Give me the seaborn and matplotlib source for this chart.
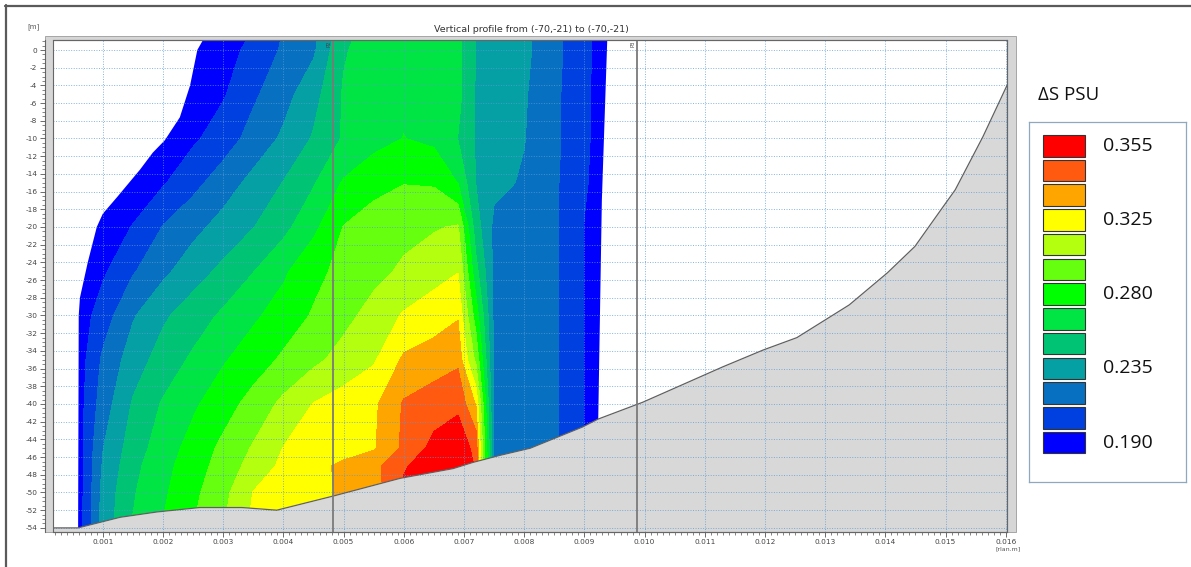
import numpy as np
import matplotlib
matplotlib.use("Agg")
import matplotlib.pyplot as plt
import seaborn as sns
from matplotlib.patches import Polygon, Rectangle
from matplotlib.lines import Line2D
from matplotlib.ticker import MultipleLocator, FuncFormatter

# ---------------- data ----------------
TITLE = "Vertical profile from (-70,-21) to (-70,-21)"

# grid nodes of the salinity-difference field
X_NODES = [0.0002, 0.0006, 0.001, 0.0015, 0.002, 0.0025, 0.003, 0.0035, 0.004,
           0.0045, 0.005, 0.0055, 0.006, 0.0065, 0.0069, 0.0072, 0.0075, 0.008,
           0.0085, 0.009, 0.0095]
Z_NODES = [2, 0, -5, -10, -15, -20, -25, -30, -35, -40, -45, -47, -50, -55]

DS_P2 = [0.166, 0.170, 0.174, 0.179, 0.183, 0.188, 0.192, 0.198, 0.213, 0.223, 0.253, 0.264, 0.268, 0.266, 0.261, 0.242, 0.238, 0.231, 0.217, 0.201, 0.187]
DS_0 = [0.168, 0.172, 0.176, 0.180, 0.185, 0.189, 0.194, 0.200, 0.215, 0.225, 0.256, 0.265, 0.269, 0.267, 0.261, 0.242, 0.238, 0.231, 0.217, 0.201, 0.187]
DS_5 = [0.168, 0.171, 0.175, 0.181, 0.186, 0.191, 0.196, 0.210, 0.222, 0.237, 0.259, 0.267, 0.270, 0.268, 0.262, 0.241, 0.238, 0.229, 0.216, 0.200, 0.187]
DS_10 = [0.170, 0.175, 0.179, 0.184, 0.190, 0.195, 0.205, 0.218, 0.230, 0.244, 0.259, 0.267, 0.2728, 0.269, 0.257, 0.241, 0.238, 0.228, 0.216, 0.200, 0.187]
DS_15 = [0.179, 0.183, 0.186, 0.191, 0.196, 0.208, 0.220, 0.232, 0.243, 0.256, 0.274, 0.283, 0.287, 0.286, 0.272, 0.242, 0.231, 0.226, 0.215, 0.199, 0.187]
DS_20 = [0.181, 0.186, 0.191, 0.198, 0.213, 0.223, 0.233, 0.242, 0.253, 0.269, 0.288, 0.294, 0.298, 0.301, 0.304, 0.249, 0.224, 0.223, 0.215, 0.197, 0.187]
DS_25 = [0.180, 0.187, 0.195, 0.211, 0.224, 0.236, 0.246, 0.257, 0.270, 0.283, 0.292, 0.298, 0.305, 0.312, 0.317, 0.262, 0.224, 0.223, 0.215, 0.197, 0.187]
DS_30 = [0.177, 0.189, 0.205, 0.226, 0.240, 0.250, 0.260, 0.270, 0.279, 0.289, 0.298, 0.308, 0.319, 0.325, 0.329, 0.280, 0.224, 0.223, 0.215, 0.197, 0.187]
DS_35 = [0.175, 0.190, 0.215, 0.235, 0.249, 0.260, 0.271, 0.280, 0.290, 0.299, 0.308, 0.316, 0.332, 0.335, 0.338, 0.299, 0.224, 0.223, 0.215, 0.197, 0.187]
DS_40 = [0.175, 0.191, 0.220, 0.244, 0.259, 0.270, 0.281, 0.293, 0.306, 0.318, 0.324, 0.328, 0.341, 0.345, 0.348, 0.329, 0.224, 0.223, 0.215, 0.197, 0.187]
DS_45 = [0.175, 0.191, 0.227, 0.250, 0.265, 0.278, 0.291, 0.304, 0.318, 0.322, 0.326, 0.329, 0.342, 0.353, 0.356, 0.347, 0.224, 0.223, 0.215, 0.197, 0.187]
DS_47 = [0.175, 0.190, 0.229, 0.253, 0.268, 0.280, 0.294, 0.308, 0.321, 0.327, 0.332, 0.337, 0.349, 0.356, 0.358, 0.349, 0.224, 0.223, 0.215, 0.197, 0.187]
DS_50 = [0.175, 0.190, 0.232, 0.256, 0.270, 0.284, 0.298, 0.318, 0.324, 0.328, 0.331, 0.335, 0.352, 0.357, 0.359, 0.349, 0.224, 0.223, 0.215, 0.197, 0.187]
DS_55 = [0.175, 0.190, 0.234, 0.259, 0.274, 0.288, 0.303, 0.321, 0.325, 0.329, 0.332, 0.336, 0.353, 0.358, 0.360, 0.351, 0.224, 0.223, 0.215, 0.197, 0.187]

# contour band limits and colours (low -> high)
LEVELS = [0.0, 0.1975, 0.2125, 0.2275, 0.2425, 0.2575, 0.2725, 0.2875,
          0.3025, 0.3175, 0.330, 0.340, 0.350, 1.0]
BAND_COLORS = ["#0000ff", "#0040e0", "#0870c0", "#04a0a4", "#00c474", "#00e444",
               "#00ff00", "#66ff10", "#b4ff10", "#ffff00", "#ffa500", "#ff5a10",
               "#ff0000"]

# legend (top -> bottom)
LEGEND_TITLE = "\u0394S PSU"
LEGEND_LABELS = ["0.355", "", "", "0.325", "", "", "0.280", "", "", "0.235", "", "", "0.190"]

# bathymetry (bottom profile)
BATHY_X = [0.00017, 0.00059, 0.00129, 0.0019, 0.00261, 0.00331, 0.00389, 0.00483,
           0.00594, 0.00682, 0.00715, 0.0076, 0.0081, 0.00897, 0.00923, 0.00997,
           0.0113, 0.01197, 0.01253, 0.0134, 0.01403, 0.01449, 0.01496, 0.01516,
           0.01562, 0.01602]
BATHY_Z = [-54.0, -54.0, -52.8, -52.2, -51.7, -51.7, -52.0, -50.4, -48.4, -47.3,
           -46.6, -45.8, -45.0, -42.6, -41.7, -39.8, -35.8, -33.9, -32.5, -28.8,
           -25.2, -22.2, -17.7, -15.8, -9.8, -4.0]

# edges of the computed domain
LEFT_X = [0.00267, 0.00257, 0.00245, 0.00228, 0.00203, 0.00183, 0.00162, 0.00124,
          0.00100, 0.00090, 0.00075, 0.00062, 0.00060, 0.00059]
LEFT_Z = [1.2, 0, -4, -7.6, -10.2, -11.6, -13.5, -16.6, -18.5, -20, -24, -28, -30, -54]
RIGHT_X = [0.00938, 0.00929, 0.00923]
RIGHT_Z = [1.2, -17, -41.7]

# profile markers
MARK_X = [0.00482, 0.00987]
MARK_LABELS = ["P2", "P3"]

# ---------------- figure ----------------
sns.set_theme(style="white")
plt.rcParams["font.family"] = ["DejaVu Sans"]

W, H = 1191, 567
fig = plt.figure(figsize=(W / 100, H / 100), dpi=100)
fig.patch.set_facecolor("white")

ax_l, ax_r, ax_t, ax_b = 53, 1007, 40, 531.7
ax = fig.add_axes([ax_l / W, (H - ax_b) / H, (ax_r - ax_l) / W, (ax_b - ax_t) / H])
ax.set_facecolor("white")

# grey frame strip behind plot area
fig.patches.append(Rectangle((45 / W, (H - ax_b) / H), (1016 - 45) / W, (ax_b - 36) / H,
                             transform=fig.transFigure, facecolor="#d6d6d6",
                             edgecolor="#9a9a9a", lw=0.6, zorder=-1))

# field
F = np.array([DS_P2, DS_0, DS_5, DS_10, DS_15, DS_20, DS_25, DS_30, DS_35, DS_40,
              DS_45, DS_47, DS_50, DS_55])
XX, ZZ = np.meshgrid(np.array(X_NODES), np.array(Z_NODES))
cs = ax.contourf(XX, ZZ, F, levels=LEVELS, colors=BAND_COLORS, zorder=1)

dom_x = list(LEFT_X) + list(BATHY_X[2:14]) + list(RIGHT_X[::-1])
dom_z = list(LEFT_Z) + list(BATHY_Z[2:14]) + list(RIGHT_Z[::-1])
clip = Polygon(np.column_stack([dom_x, dom_z]), closed=True, transform=ax.transData,
               facecolor="none", edgecolor="none")
cs.set_clip_path(clip)

# bottom
ax.fill_between(BATHY_X, BATHY_Z, -60, color="#d8d8d8", zorder=1.2, lw=0)
sns.lineplot(x=BATHY_X, y=BATHY_Z, ax=ax, color="#606060", lw=0.9, sort=False,
             estimator=None, zorder=3)

# profile marker lines
for mx, ml in zip(MARK_X, MARK_LABELS):
    ax.axvline(mx, color="#7a7a7a", lw=1.3, zorder=3)
    ax.text(mx - 0.00002, 1.05, ml, rotation=90, fontsize=3.8, ha="right", va="top",
            color="#444444", zorder=4)

ax.set_xlim(0.0001728, 0.01602)
ax.set_ylim(-54.43, 1.13)

# grid
ax.set_axisbelow(False)
ax.grid(True, which="major", color="#5b9bd5", alpha=0.75, lw=0.7, linestyle=(0, (1, 1.6)))

# ticks
ax.xaxis.set_major_locator(MultipleLocator(0.001))
ax.xaxis.set_minor_locator(MultipleLocator(0.0001))
ax.yaxis.set_major_locator(MultipleLocator(2))
ax.yaxis.set_minor_locator(MultipleLocator(0.5))
ax.xaxis.set_major_formatter(FuncFormatter(lambda v, p: f"{v:.3f}"))
ax.yaxis.set_major_formatter(FuncFormatter(lambda v, p: f"{int(round(v))}"))
ax.tick_params(axis="both", which="major", labelsize=5.3, labelcolor="#444444",
               color="#555555", length=3.5, width=0.6, direction="out", pad=2,
               bottom=True, left=True)
ax.tick_params(axis="both", which="minor", color="#555555", length=2, width=0.5,
               direction="out", bottom=True, left=True)

for s in ["top", "right", "bottom", "left"]:
    ax.spines[s].set_color("#666666")
    ax.spines[s].set_linewidth(0.8)
ax.spines["left"].set_position(("outward", 5.8))
ax.add_patch(Rectangle((0, 0), 1, 1, transform=ax.transAxes, fill=False,
                       ec="#666666", lw=0.8, zorder=6, clip_on=False))

# texts around plot
fig.text(531 / W, 1 - 30 / H, TITLE, ha="center", va="center", fontsize=6.8, color="#333333")
fig.text(33 / W, 1 - 27 / H, "[m]", ha="center", va="center", fontsize=5, color="#555555")
fig.text(1008 / W, 1 - 549 / H, "[rlan.m]", ha="center", va="center", fontsize=4.5,
         color="#555555")

# outer frame lines
fig.add_artist(Line2D([5 / W, 1], [1 - 6 / H, 1 - 6 / H], transform=fig.transFigure,
                      color="#5a5a5a", lw=1.6))
fig.add_artist(Line2D([6 / W, 6 / W], [1 - 5 / H, 0], transform=fig.transFigure,
                      color="#5a5a5a", lw=1.6))

# legend
fig.text(1038 / W, 1 - 95 / H, LEGEND_TITLE, ha="left", va="center", fontsize=13.5,
         family=["Open Sans", "DejaVu Sans"], color="#111111")
lax = fig.add_axes([1029 / W, 1 - 482 / H, 157 / W, 360 / H])
lax.set_xlim(0, 157)
lax.set_ylim(13.59, -0.96)
idx = np.arange(len(LEGEND_LABELS))
lax.barh(idx, 42, left=14, height=0.87, color=BAND_COLORS[::-1], edgecolor="#333333",
         lw=0.8)
for i, lab in zip(idx, LEGEND_LABELS):
    if lab:
        lax.text(74, i, lab, ha="left", va="center", fontsize=14,
                 family=["Open Sans", "DejaVu Sans"], color="#111111")
lax.set_xticks([])
lax.set_yticks([])
for s in lax.spines.values():
    s.set_color("#8fa8bf")
    s.set_linewidth(0.9)

fig.savefig("out.png", dpi=100)
